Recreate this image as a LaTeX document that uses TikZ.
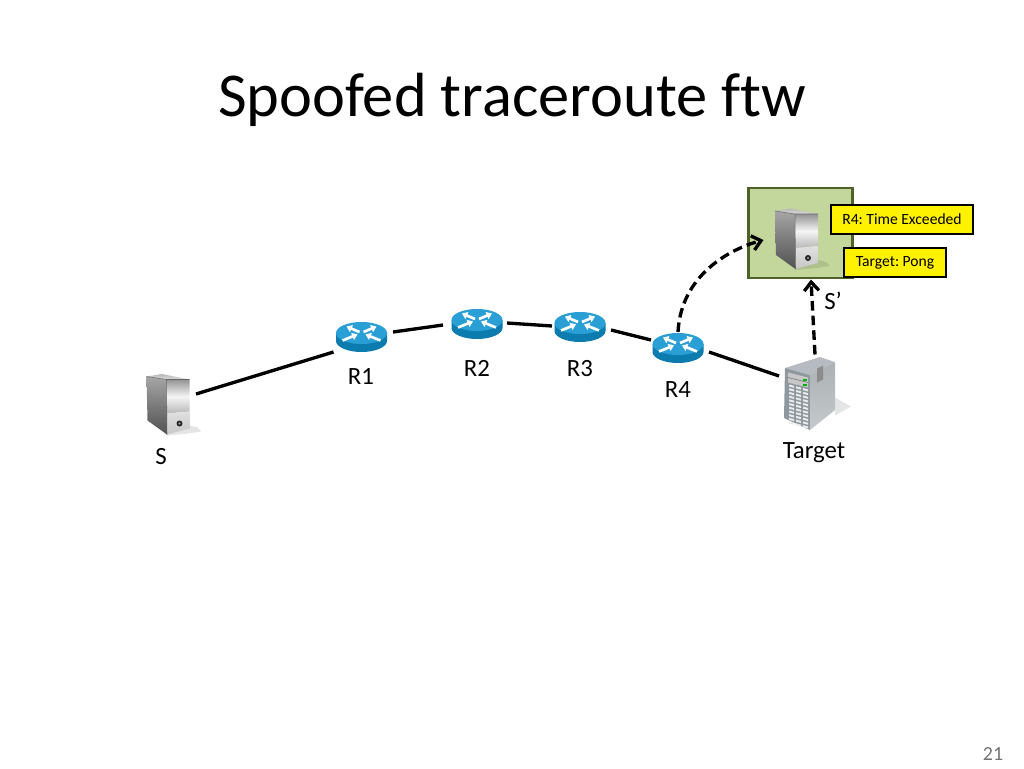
\documentclass[tikz,border=0pt]{standalone}
\usepackage{fontspec}
\setmainfont{Carlito}
\frenchspacing
\usetikzlibrary{arrows.meta,calc}
\definecolor{boxgreen}{HTML}{C3D69B}
\definecolor{boxedge}{HTML}{4F6228}
\definecolor{routertop}{HTML}{2A9FD6}
\definecolor{routerside}{HTML}{0C7CAE}
\definecolor{rackface}{HTML}{8F989E}
\definecolor{rackside}{HTML}{C4C9CC}
\definecolor{racktop}{HTML}{B5BBC0}
\tikzset{
  x=0.75pt,y=-0.75pt,
  anchorbox/.style={inner sep=0pt,outer sep=0pt},
  link/.style={line width=2.5pt,black},
  spoof/.style={line width=2.5pt,black,dash pattern=on 7.2pt off 3.8pt,-{Straight Barb[length=6.5pt,width=11pt,line width=2.5pt]}},
  lbl/.style={font=\fontsize{18.6}{22}\selectfont,text=black,inner sep=0pt},
  note/.style={draw=black,line width=1pt,fill=yellow,font=\fontsize{11.7}{13}\selectfont,inner sep=0pt,text=black,align=center},
  rarrow/.style={white,line width=2pt,-{Triangle[length=4pt,width=5.5pt]}},
  pics/router/.style={code={
    \fill[routerside] (-25.5,-4) -- (-25.5,4) .. controls (-25.5,10) and (-14,15) .. (0,15) .. controls (14,15) and (25.5,10) .. (25.5,4) -- (25.5,-4) -- cycle;
    \fill[routertop] (0,-4) ellipse[x radius=25.5,y radius=11];
    \draw[rarrow] (-2,-5) -- (-15,-10.5);
    \draw[rarrow] (2,-5) -- (15,-10.5);
    \draw[rarrow] (-19,3.5) -- (-4,-2.6);
    \draw[rarrow] (19,3.5) -- (4,-2.6);
  }},
  pics/tower/.style={code={
    \fill[black,opacity=0.10] (-2,27) -- (21.5,21) -- (30,23) -- (33,27) -- (20,29) -- (-1,31) -- cycle;
    \shade[top color=black!35,bottom color=black!68,middle color=black!52] (-21.5,-28) -- (-1.5,-25) -- (-1,30) -- (-20.5,16) -- cycle;
    \shade[top color=black!28,bottom color=black!14] (-21.5,-28) -- (-6,-30.5) -- (21.5,-25) -- (-1.5,-25) -- cycle;
    \shade[top color=black!42,bottom color=black!28,middle color=black!4] (-1.5,-25) -- (21.5,-25) -- (21.5,7) -- (-1,9) -- cycle;
    \shade[top color=black!12,bottom color=black!22] (-1,9) -- (21.5,7) -- (21.5,24) -- (-1,30) -- cycle;
    \draw[black!60,line width=0.4pt] (-21.5,-28) -- (-1.5,-25) -- (21.5,-25) (-1.5,-25) -- (-1,30);
    \fill[black!85] (11.5,19) circle[radius=3];
    \fill[black!35] (11.5,19) circle[radius=1.1];
  }},
  pics/rack/.style={code={
    \fill[black,opacity=0.10] (26,4) -- (42,13) -- (26,22) -- cycle;
    \fill[racktop] (-24,-25.5) -- (11,-36.5) -- (26,-31.5) -- (1,-18.5) -- cycle;
    \fill[rackface] (-24,-25.5) -- (1,-18.5) -- (1,36.5) -- (-25,24.5) -- cycle;
    \shade[top color=rackside!88!black,bottom color=rackside] (1,-18.5) -- (26,-31.5) -- (26,16.5) -- (1,36.5) -- cycle;
    \fill[black!45] (8,-25) -- (14,-28) -- (14,-14) -- (8,-11) -- cycle;
    \fill[black!22] (-21,-21) -- (-1,-16) -- (-1,-6) -- (-21,-11) -- cycle;
    \draw[black!55,line width=0.4pt] (-21,-16) -- (-1,-11);
    \fill[green!70!black] (-6,-14.5) rectangle (-2,-12.5);
    \fill[green!70!black] (-6,-9.5) rectangle (-2,-7.5);
    \foreach \c/\o in {-20/0,-13/1.8,-6/3.6}{
      \foreach \r in {0,...,10}{
        \fill[white!92!black] (\c,-9+\o+\r*3.7) -- ++(5,1.3) -- ++(0,2) -- ++(-5,-1.3) -- cycle;
      }
    }
  }}
}
\begin{document}
\begin{tikzpicture}
\useasboundingbox (0,0) rectangle (1024,768);
\fill[white] (0,0) rectangle (1024,768);
\node[anchor=west,font=\fontsize{46.8}{50}\selectfont,inner sep=0pt,text=black] (title) at (218,100) {Spoofed traceroute f\kern0pt tw};
\node[draw=boxedge,fill=boxgreen,line width=2.2pt,minimum width=78.5pt,minimum height=67.5pt,inner sep=0pt] (sbox) at (800.5,233) {};

\node[anchorbox] (s) at (168,404.5) {};
\node[anchorbox] (sp) at (796.5,239) {};
\node[anchorbox] (r1) at (361.5,337) {};
\node[anchorbox] (r2) at (477,324) {};
\node[anchorbox] (r3) at (580,327) {};
\node[anchorbox] (r4) at (678,348) {};
\node[anchorbox] (tgt) at (809,393.5) {};

\pic at (s) {tower};
\pic at (sp) {tower};
\pic at (r1) {router};
\pic at (r2) {router};
\pic at (r3) {router};
\pic at (r4) {router};
\pic at (tgt) {rack};

\draw[link] ($(s)+(28,-10.5)$) -- ($(r1)+(-28,15)$);
\draw[link] ($(r1)+(31.5,-5)$) -- ($(r2)+(-34,1)$);
\draw[link] ($(r2)+(30,-1)$) -- ($(r3)+(-28,-1)$);
\draw[link] ($(r3)+(31,3)$) -- ($(r4)+(-27,-8)$);
\draw[link] ($(r4)+(31,4)$) -- ($(tgt)+(-30,-17.5)$);
\draw[spoof] ($(r4)+(0,-16)$) .. controls ($(r4)+(3,-73)$) and ($(sp)+(-66.5,10)$) .. ($(sp)+(-33,1)$);
\draw[spoof] ($(tgt)+(6,-39)$) -- ($(sp)+(14.5,40.5)$);

\node[note,minimum width=106.5pt,minimum height=21.7pt] (n1) at (902,219.5) {R4: Time Exceeded};
\node[note,minimum width=76.5pt,minimum height=21.7pt] (n2) at (895,262.5) {Target: Pong};

\node[lbl] (ls) at (161,457) {S};
\node[lbl] (lr1) at (361,377) {R1};
\node[lbl] (lr2) at (477,368) {R2};
\node[lbl] (lr3) at (580,369) {R3};
\node[lbl] (lr4) at (678,390) {R4};
\node[lbl] (lt) at (814,453) {Target};
\node[lbl] (lsp) at (833,301) {S’};
\node[font=\fontsize{15}{17}\selectfont,text=black!55,inner sep=0pt] (page) at (993,754) {21};
\end{tikzpicture}
\end{document}
